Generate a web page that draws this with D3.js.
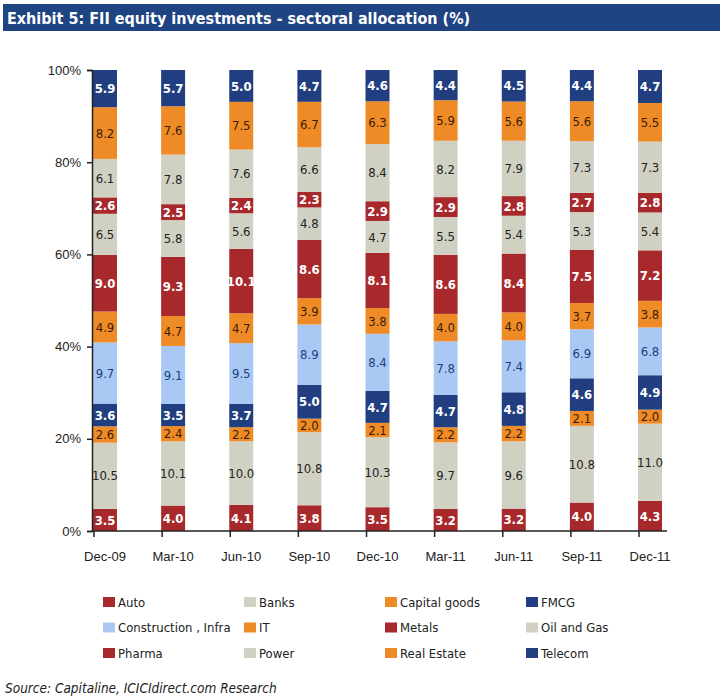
<!DOCTYPE html>
<html>
<head>
<meta charset="utf-8">
<script src="https://cdn.jsdelivr.net/npm/d3@7"></script>
<style>
    body { margin: 0; background: #fff; }
    svg { display: block; font-family: "Liberation Sans Narrow", "DejaVu Sans Condensed", "Arial Narrow", sans-serif; }
</style>
</head>
<body>
<script>
const WIDTH = 720;
const HEIGHT = 697;

const quarters = ["Dec-09", "Mar-10", "Jun-10", "Sep-10", "Dec-10", "Mar-11", "Jun-11", "Sep-11", "Dec-11"];
const sectors = ["Auto", "Banks", "Capital goods", "FMCG", "Construction , Infra", "IT",
                 "Metals", "Oil and Gas", "Pharma", "Power", "Real Estate", "Telecom"];

// Values as labelled on the bars (bars themselves are stretched to 100%)
const auto         = [3.5, 4.0, 4.1, 3.8, 3.5, 3.2, 3.2, 4.0, 4.3];
const banks        = [10.5, 10.1, 10.0, 10.8, 10.3, 9.7, 9.6, 10.8, 11.0];
const capitalGoods = [2.6, 2.4, 2.2, 2.0, 2.1, 2.2, 2.2, 2.1, 2.0];
const fmcg         = [3.6, 3.5, 3.7, 5.0, 4.7, 4.7, 4.8, 4.6, 4.9];
const construction = [9.7, 9.1, 9.5, 8.9, 8.4, 7.8, 7.4, 6.9, 6.8];
const it           = [4.9, 4.7, 4.7, 3.9, 3.8, 4.0, 4.0, 3.7, 3.8];
const metals       = [9.0, 9.3, 10.1, 8.6, 8.1, 8.6, 8.4, 7.5, 7.2];
const oilGas       = [6.5, 5.8, 5.6, 4.8, 4.7, 5.5, 5.4, 5.3, 5.4];
const pharma       = [2.6, 2.5, 2.4, 2.3, 2.9, 2.9, 2.8, 2.7, 2.8];
const power        = [6.1, 7.8, 7.6, 6.6, 8.4, 8.2, 7.9, 7.3, 7.3];
const realEstate   = [8.2, 7.6, 7.5, 6.7, 6.3, 5.9, 5.6, 5.6, 5.5];
const telecom      = [5.9, 5.7, 5.0, 4.7, 4.6, 4.4, 4.5, 4.4, 4.7];

const yTicks = [0, 0.2, 0.4, 0.6, 0.8, 1];

const RED = "#a8292c", BEIGE = "#d1d1c3", ORANGE = "#ee8b26", NAVY = "#213f80", SKY = "#a9c9f4";
const fills = [RED, BEIGE, ORANGE, NAVY, SKY, ORANGE, RED, BEIGE, RED, BEIGE, ORANGE, NAVY];
const labelColors = { [RED]: "#ffffff", [NAVY]: "#ffffff", [BEIGE]: "#222222", [ORANGE]: "#3b1d05", [SKY]: "#213f80" };

function buildRows() {
    const series = [auto, banks, capitalGoods, fmcg, construction, it, metals, oilGas, pharma, power, realEstate, telecom];
    return quarters.map((q, i) => {
        let row = { quarter: q };
        sectors.forEach((s, j) => { row[s] = series[j][i]; });
        return row;
    });
}

function drawChart() {
    const rows = buildRows();

    const svg = d3.select("body").append("svg")
        .attr("width", WIDTH)
        .attr("height", HEIGHT);

    // --- Title bar ---
    svg.append("rect")
        .attr("x", 3).attr("y", 4)
        .attr("width", WIDTH - 3).attr("height", 27)
        .attr("fill", "#1f4482");
    svg.append("text")
        .attr("x", 7).attr("y", 24)
        .attr("fill", "#fff")
        .style("font-size", "16px")
        .style("font-weight", "bold")
        .text("Exhibit 5: FII equity investments - sectoral allocation (%)");

    const x = d3.scaleBand()
        .domain(quarters)
        .range([93, 662])
        .paddingInner(0.648)
        .paddingOuter(0);

    const y = d3.scaleLinear()
        .domain([0, 1])
        .range([531, 70]);

    const stacked = d3.stack()
        .keys(sectors)
        .offset(d3.stackOffsetExpand)(rows);

    // --- Bars ---
    const layers = svg.append("g")
        .selectAll("g")
        .data(stacked)
        .enter()
        .append("g")
        .attr("fill", (d, i) => fills[i]);

    layers.selectAll("rect")
        .data(d => d)
        .enter()
        .append("rect")
        .attr("x", d => x(d.data.quarter))
        .attr("y", d => y(d[1]))
        .attr("width", x.bandwidth())
        .attr("height", d => y(d[0]) - y(d[1]));

    // --- Value labels ---
    stacked.forEach((layer, i) => {
        svg.append("g")
            .selectAll("text")
            .data(layer)
            .enter()
            .append("text")
            .attr("x", d => x(d.data.quarter) + x.bandwidth() / 2)
            .attr("y", d => (y(d[0]) + y(d[1])) / 2)
            .attr("dy", "0.36em")
            .attr("text-anchor", "middle")
            .attr("fill", labelColors[fills[i]])
            .style("font-size", "13px")
            .style("font-weight", (fills[i] === RED || fills[i] === NAVY) ? "bold" : "normal")
            .text(d => d.data[layer.key].toFixed(1));
    });

    // --- Y axis ---
    const yAxis = svg.append("g")
        .attr("transform", "translate(92,0)")
        .call(d3.axisLeft(y).tickValues(yTicks).tickFormat(d3.format(".0%")).tickSize(5).tickPadding(6));
    yAxis.select(".domain").attr("stroke", "#222").attr("stroke-width", 1.5);
    yAxis.selectAll(".tick line").attr("stroke", "#222").attr("stroke-width", 1.5);
    yAxis.selectAll("text").style("font-size", "13px").attr("fill", "#222");

    // --- X axis (ticks sit at the left edge of each bar) ---
    const xAxis = svg.append("g")
        .attr("transform", "translate(0,531)")
        .call(d3.axisBottom(x).tickSize(0).tickPadding(21));
    xAxis.select(".domain").attr("d", "M92,0H667").attr("stroke", "#222").attr("stroke-width", 1.5);
    xAxis.selectAll("text").style("font-size", "13px").attr("fill", "#222");
    xAxis.selectAll(".tick line")
        .attr("x1", -x.bandwidth() / 2 + 1).attr("x2", -x.bandwidth() / 2 + 1)
        .attr("y2", 6)
        .attr("stroke", "#222").attr("stroke-width", 1.5);

    // --- Legend, 4 columns x 3 rows ---
    const legend = svg.append("g")
        .selectAll("g")
        .data(sectors)
        .enter()
        .append("g")
        .attr("transform", (d, i) => `translate(${103 + (i % 4) * 141},${602 + Math.floor(i / 4) * 25.5})`);
    legend.append("rect")
        .attr("x", 0).attr("y", -5)
        .attr("width", 12).attr("height", 10)
        .attr("fill", (d, i) => fills[i]);
    legend.append("text")
        .attr("x", 15).attr("dy", "0.36em")
        .attr("fill", "#222")
        .style("font-size", "13px")
        .text(d => d);

    // --- Source line ---
    svg.append("text")
        .attr("x", 5).attr("y", 693)
        .attr("fill", "#222")
        .style("font-size", "13.5px")
        .style("font-style", "italic")
        .text("Source: Capitaline, ICICIdirect.com Research");
}

drawChart();
</script>
</body>
</html>
